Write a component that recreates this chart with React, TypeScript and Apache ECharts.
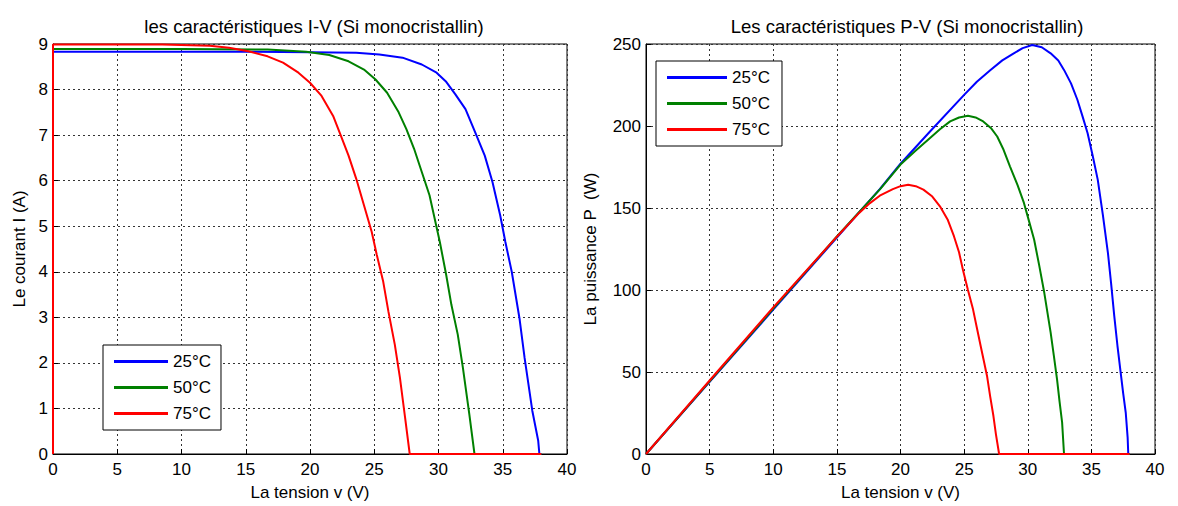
import React, { useEffect, useRef } from "react";
import * as echarts from "echarts";

const seriesNames = ["25°C", "50°C", "75°C"];
const seriesColors = ["#0000ff", "#008000", "#ff0000"];

// I-V data [V, I]
const iv25: number[][] = [[0,0],[0,8.83],[5,8.83],[10,8.83],[14.9,8.83],[20,8.82],[23.6,8.81],[25.4,8.77],[27.2,8.7],[28.7,8.55],[29.85,8.37],[30.6,8.17],[31.3,7.9],[32.1,7.57],[32.8,7.1],[33.6,6.55],[34.2,5.97],[34.8,5.24],[35.2,4.66],[35.7,4.0],[36.3,2.98],[36.7,2.11],[37.3,0.95],[37.76,0.29],[37.85,0],[38,0]];
const iv50: number[][] = [[0,0],[0,8.89],[5,8.89],[10,8.89],[16.7,8.88],[19.7,8.83],[21.5,8.76],[23.0,8.62],[24.2,8.44],[25.1,8.22],[26.0,7.93],[26.9,7.5],[27.5,7.13],[28.1,6.7],[28.7,6.19],[29.3,5.68],[29.7,5.17],[30.1,4.66],[30.6,3.93],[31.0,3.28],[31.5,2.62],[31.9,1.89],[32.4,0.87],[32.8,0],[38,0]];
const iv75: number[][] = [[0,0],[0,8.99],[8.5,8.99],[12.2,8.96],[13.7,8.92],[15.2,8.84],[16.7,8.73],[17.9,8.59],[19.1,8.37],[20.0,8.15],[20.9,7.86],[21.8,7.42],[22.4,6.99],[23.0,6.55],[23.6,6.04],[24.2,5.46],[24.8,4.88],[25.2,4.37],[25.7,3.78],[26.1,3.13],[26.6,2.4],[27.0,1.67],[27.4,0.8],[27.76,0],[38,0]];

// P-V data [V, P]
const pv25: number[][] = [[0,0],[5,44],[10,88],[15,132],[18.37,161.5],[20,177],[22.3,196.5],[25,219],[26,227],[27.05,234],[28,240],[28.9,244.3],[29.6,247.5],[30.35,249.4],[31.1,248],[31.8,244.3],[32.4,240],[32.85,234.2],[33.4,226],[33.9,216],[34.3,206],[34.7,195.7],[35.1,182],[35.5,167.3],[35.9,146],[36.3,122.7],[36.55,104],[36.8,84.1],[37.05,66],[37.3,49.7],[37.5,37],[37.7,25.3],[37.85,10],[37.9,0],[38,0]];
const pv50: number[][] = [[0,0],[5,44.3],[10,88.6],[15,132.6],[18.4,161.5],[20,176.5],[21.2,185],[22.3,192.6],[23.1,198],[23.9,202.8],[24.6,205.2],[25.3,206.2],[25.9,205.2],[26.5,202.8],[27.1,198.8],[27.6,193.6],[28.1,185.5],[28.6,175.4],[29.2,164],[29.7,153.1],[30.1,142],[30.5,130.8],[30.9,115],[31.3,98.3],[31.8,74],[32.05,60],[32.3,45.6],[32.5,32],[32.7,19.3],[32.85,0],[38,0]];
const pv75: number[][] = [[0,0],[5,44.8],[10,89.4],[15,132.5],[16.75,147],[17.6,153],[18.37,157.5],[19.4,161.5],[20,163.3],[20.6,164.2],[21.2,163.3],[21.8,161.2],[22.5,157],[23.1,151],[23.7,143],[24.2,132.8],[24.6,123],[24.9,112.5],[25.3,100],[25.7,88.2],[26.0,77],[26.3,65.9],[26.8,47.6],[27.05,35],[27.3,23.3],[27.5,12],[27.75,0],[38,0]];

const titles = ["les caractéristiques I-V (Si monocristallin)", "Les caractéristiques P-V (Si monocristallin)"];
const xName = "La tension v (V)";
const yNames = ["Le courant I (A)", "La puissance P  (W)"];

const FONT = "Liberation Sans, Arial, Helvetica, sans-serif";

export default function App() {
  const ref = useRef<HTMLDivElement>(null);
  useEffect(() => {
    document.body.style.margin = "0";
    const chart = echarts.init(ref.current!, null, { renderer: "svg" });
    const grid = (left: number, width: number) => ({
      left, top: 44, width, height: 412, show: true, borderColor: "#000", borderWidth: 1, backgroundColor: "#fff",
    });
    const xAxis = (gi: number) => ({
      type: "value", gridIndex: gi, min: 0, max: 40, interval: 5,
      name: xName, nameLocation: "middle", nameGap: 30,
      nameTextStyle: { fontSize: 17, color: "#000", fontFamily: FONT },
      axisLine: { show: true, lineStyle: { color: "#000", width: 1 } },
      axisTick: { show: true, inside: true, length: 5, lineStyle: { color: "#000" } },
      axisLabel: { fontSize: 17, color: "#000", fontFamily: FONT, margin: 7 },
      splitLine: { show: true, lineStyle: { color: "#333", type: [2, 3], width: 1 } },
    });
    const yAxis = (gi: number, max: number, interval: number, name: string, gap: number) => ({
      type: "value", gridIndex: gi, min: 0, max, interval,
      name, nameLocation: "middle", nameGap: gap,
      nameTextStyle: { fontSize: 17, color: "#000", fontFamily: FONT },
      axisLine: { show: true, lineStyle: { color: "#000", width: 1 } },
      axisTick: { show: true, inside: true, length: 5, lineStyle: { color: "#000" } },
      axisLabel: { fontSize: 17, color: "#000", fontFamily: FONT, margin: 5 },
      splitLine: { show: true, lineStyle: { color: "#333", type: [2, 3], width: 1 } },
    });
    const mk = (name: string, color: string, data: number[][], gi: number) => ({
      type: "line", name, xAxisIndex: gi, yAxisIndex: gi, data,
      showSymbol: false, symbol: "none", lineStyle: { color, width: 2 }, itemStyle: { color },
    });
    const legend = (left: number, top: number, w: number, pad: number[]) => ({
      left, top, orient: "vertical", data: seriesNames, icon: "rect", itemWidth: w, itemHeight: 3,
      itemGap: 9, padding: pad, backgroundColor: "#fff", borderColor: "#000", borderWidth: 1, borderRadius: 0,
      textStyle: { fontSize: 17, color: "#000", fontFamily: FONT },
      selectedMode: false,
    });
    chart.setOption({
      animation: false,
      backgroundColor: "#fff",
      title: [
        { text: titles[0], left: 309, top: 12, textAlign: "center", textStyle: { fontSize: 18.5, fontWeight: "normal", color: "#000", fontFamily: FONT } },
        { text: titles[1], left: 902, top: 12, textAlign: "center", textStyle: { fontSize: 18.5, fontWeight: "normal", color: "#000", fontFamily: FONT } },
      ],
      legend: [legend(103, 345, 54, [8, 10, 8, 11]), legend(656, 61, 60, [8, 12, 8, 11])],
      grid: [grid(53, 514), grid(646, 509)],
      xAxis: [xAxis(0), xAxis(1)],
      yAxis: [yAxis(0, 9, 1, yNames[0], 25), yAxis(1, 250, 50, yNames[1], 47)],
      series: [
        mk(seriesNames[0], seriesColors[0], iv25, 0),
        mk(seriesNames[1], seriesColors[1], iv50, 0),
        mk(seriesNames[2], seriesColors[2], iv75, 0),
        mk(seriesNames[0], seriesColors[0], pv25, 1),
        mk(seriesNames[1], seriesColors[1], pv50, 1),
        mk(seriesNames[2], seriesColors[2], pv75, 1),
      ],
    });
    return () => chart.dispose();
  }, []);
  return <div ref={ref} style={{ width: 1178, height: 506 }} />;
}
